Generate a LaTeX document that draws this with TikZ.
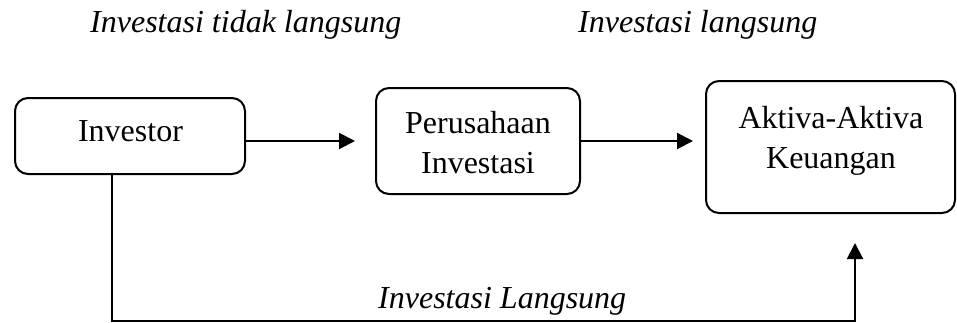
\documentclass[tikz,border=0pt]{standalone}
\usepackage{fontspec}
\setmainfont{Liberation Serif}
\usetikzlibrary{arrows.meta,calc}

\begin{document}
\begin{tikzpicture}[
  x=1pt, y=-1pt,
  every node/.style={font=\fontsize{32}{40}\selectfont, inner sep=0pt},
  box/.style={draw, line width=2pt, rounded corners=13pt, minimum width=#1},
  txt/.style={anchor=base},
  captext/.style={anchor=base west, font=\fontsize{32}{40}\selectfont\itshape},
  arr/.style={line width=2pt, -{Triangle[length=16pt,width=16pt]}}
]
\useasboundingbox (0,0) rectangle (957,322);

% boxes
\node[box=230pt, minimum height=76pt] (inv) at (130,136) {};
\node[box=204pt, minimum height=106pt] (per) at (478,141) {};
\node[box=249pt, minimum height=132pt] (akt) at (830.5,147) {};

% box texts
\node[txt] (inv-t)  at (130.5,141) {Investor};
\node[txt] (per-t1) at (478,133) {Perusahaan};
\node[txt] (per-t2) at (478,173) {Investasi};
\node[txt] (akt-t1) at (831,128) {Aktiva-Aktiva};
\node[txt] (akt-t2) at (831,168) {Keuangan};

% captions
\node[captext] (cap-l) at (90,32) {Investasi tidak langsung};
\node[captext] (cap-r) at (578,32) {Investasi langsung};
\node[captext] (cap-b) at (378,308) {Investasi Langsung};

% connectors
\coordinate (c1) at (112,321);
\coordinate (c2) at (855,321);
\draw[arr, shorten >=20pt] (inv.east |- per.west) -- (per.west);
\draw[arr, shorten >=12pt] (per.east) -- (akt.west |- per.east);
\draw[arr, shorten >=29pt] (inv.south -| c1) -- (c1) -- (c2) -- (akt.south -| c2);
\end{tikzpicture}
\end{document}
